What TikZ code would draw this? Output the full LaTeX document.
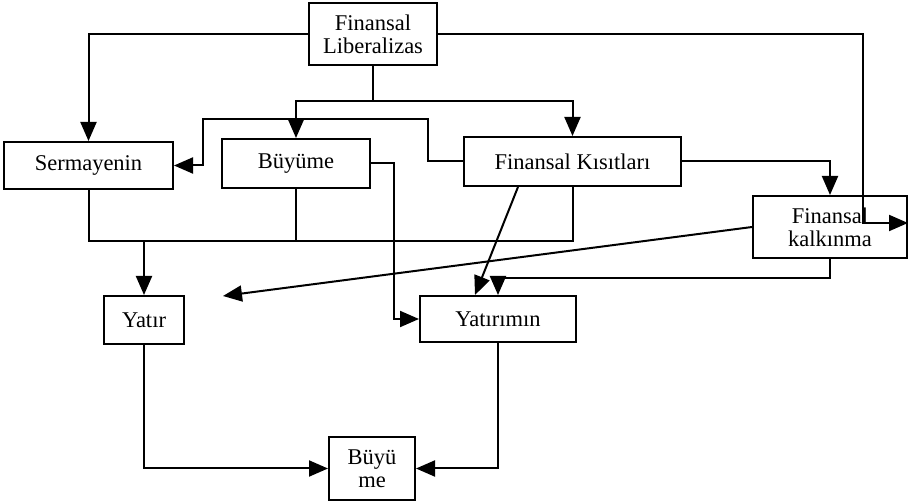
\documentclass[tikz,border=0pt]{standalone}
\usepackage{fontspec}
\setmainfont{Liberation Serif}
\usetikzlibrary{arrows.meta}
\begin{document}
\begin{tikzpicture}[x=1pt,y=-1pt,
  box/.style={draw,line width=2pt,inner sep=0pt,align=center,
    font=\fontsize{22.5}{23}\selectfont},
  ln/.style={line width=2pt},
  arr/.style={line width=2pt,-{Triangle[length=19pt,width=16pt]}}]
\useasboundingbox (0,0) rectangle (908,502);
\node[box,minimum width=128,minimum height=62] (fl) at (373,34) {Finansal\\Liberalizas};
\node[box,minimum width=169,minimum height=47] (serm) at (88.5,165.5) {Sermayenin};
\node[box,minimum width=148,minimum height=49] (buy) at (296,163.5) {Büyüme};
\node[box,minimum width=217,minimum height=49] (fk) at (572.5,161.5) {Finansal Kısıtları};
\node[box,minimum width=154,minimum height=62] (fkalk) at (830,227) {Finansal\\kalkınma};
\node[box,minimum width=80,minimum height=48] (yatr) at (144,320) {Yatır};
\node[box,minimum width=156,minimum height=46] (yatm) at (498,319) {Yatırımın};
\node[box,minimum width=86,minimum height=63] (b2) at (372,468.5) {Büyü\\me};
% from Finansal Liberalizas
\draw[arr] (fl.west) -| (serm.north);
\draw[arr] (fl.east) -| (863,223) -- (fkalk.east |- 0,223);
\draw[ln] (fl.south) -- (373,101) coordinate (j1);
\draw[arr] (j1) -| (buy.north);
\draw[arr] (j1) -| (fk.north);
% Finansal Kisitlari to Sermayenin
\draw[arr] (fk.west) -| (428,119) -| (203,165.5) -- (serm.east);
% Buyume to Yatirimin
\draw[arr] (buy.east) -| (394,319) -- (yatm.west);
% bus to Yatir
\draw[ln] (serm.south) |- (fk.south |- 0,241) -- (fk.south);
\draw[ln] (buy.south) -- (buy.south |- 0,241);
\draw[arr] (yatr.north |- 0,241) -- (yatr.north);
% diagonal from Finansal Kisitlari
\draw[arr] (518,0 |- fk.south) -- (475,0 |- yatm.north);
% Finansal kalkinma
\draw[arr] (fk.east) -| (fkalk.north);
\draw[arr] (fkalk.south) -- ++(0,19) -| (yatm.north);
\coordinate (p1) at (223,296);
\draw[arr] (fkalk.west) -- (p1);
% to Buyume
\draw[arr] (yatr.south) |- (b2.west);
\draw[arr] (yatm.south) |- (b2.east);
\end{tikzpicture}
\end{document}
